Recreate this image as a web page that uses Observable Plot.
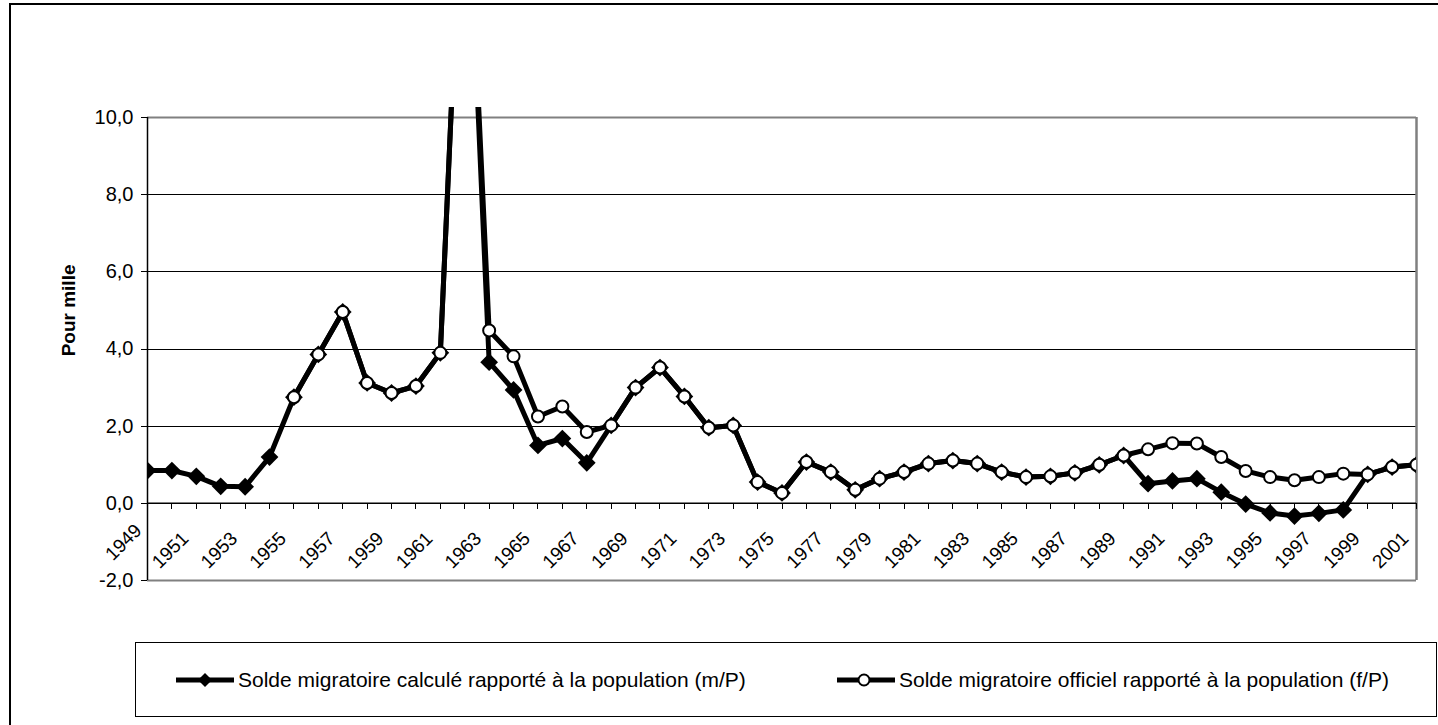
<!DOCTYPE html>
<html><head><meta charset="utf-8">
<script src="https://cdn.jsdelivr.net/npm/d3@7"></script>
<script src="https://cdn.jsdelivr.net/npm/@observablehq/plot@0.6"></script>
<style>
html,body{margin:0;padding:0;background:#fff;overflow:hidden;width:1438px;height:725px;}
body{position:relative;font-family:"Liberation Sans",Arial,sans-serif;}
#outer{position:absolute;left:9px;top:3px;width:1500px;height:800px;border:2px solid #000;box-sizing:border-box;}
#chart{position:absolute;left:0;top:0;}
#legend{position:absolute;left:135px;top:642px;width:1302px;height:75px;border:1.5px solid #000;box-sizing:border-box;background:#fff;}
.item{position:absolute;top:0;height:100%;display:flex;align-items:center;font-size:21px;color:#000;white-space:nowrap;}
.item svg{display:block;margin-right:2px;}
</style></head><body>
<div id="outer"></div>
<div id="chart"></div>
<div id="legend"></div>
<script>
const years = [1949,1950,1951,1952,1953,1954,1955,1956,1957,1958,1959,1960,1961,1962,1963,1964,1965,1966,1967,1968,1969,1970,1971,1972,1973,1974,1975,1976,1977,1978,1979,1980,1981,1982,1983,1984,1985,1986,1987,1988,1989,1990,1991,1992,1993,1994,1995,1996,1997,1998,1999,2000,2001];
const calcValues = [0.85,0.85,0.70,0.44,0.43,1.20,2.75,3.86,4.96,3.12,2.86,3.04,3.90,18.0,3.66,2.94,1.50,1.68,1.05,2.02,3.00,3.52,2.77,1.96,2.02,0.55,0.27,1.07,0.81,0.35,0.64,0.81,1.03,1.11,1.03,0.81,0.68,0.70,0.79,1.00,1.24,0.51,0.58,0.64,0.29,-0.02,-0.25,-0.33,-0.26,-0.17,0.75,0.94,1.00];
const officialValues = [null,null,null,null,null,null,2.75,3.86,4.96,3.12,2.86,3.04,3.90,18.0,4.48,3.81,2.25,2.51,1.85,2.02,3.00,3.52,2.77,1.96,2.02,0.55,0.27,1.07,0.81,0.35,0.64,0.81,1.03,1.11,1.03,0.81,0.68,0.70,0.79,1.00,1.24,1.40,1.56,1.55,1.20,0.84,0.68,0.60,0.68,0.77,0.75,0.94,1.00];
const yTicks = [-2,0,2,4,6,8,10];
const gridValues = [2,4,6,8];
const labelYears = [1949,1951,1953,1955,1957,1959,1961,1963,1965,1967,1969,1971,1973,1975,1977,1979,1981,1983,1985,1987,1989,1991,1993,1995,1997,1999,2001];
const seriesNames = ["Solde migratoire calculé rapporté à la population (m/P)", "Solde migratoire officiel rapporté à la population (f/P)"];
const yTitle = "Pour mille";
const yTitleAt = 5;

const calc = years.map((year, i) => ({year, value: calcValues[i]}));
const official = years.map((year, i) => ({year, value: officialValues[i]})).filter(d => d.value != null);
const fmt = d => d.toFixed(1).replace(".", ",");
const x0 = years[0], x1 = years[years.length - 1];
const yMin = yTicks[0], yMax = yTicks[yTicks.length - 1];

const chart = Plot.plot({
  width: 1438, height: 625,
  marginLeft: 147, marginRight: 22, marginTop: 107, marginBottom: 45,
  style: {fontFamily: "'Liberation Sans', Arial, sans-serif", fontSize: "20px", background: "transparent", overflow: "visible", color: "#000"},
  x: {domain: [x0, x1], axis: null},
  y: {domain: [yMin, 10.26], axis: null},
  marks: [
    Plot.ruleY(gridValues, {y: d => d, x1: () => x0, x2: () => x1, stroke: "#000", strokeWidth: 1, shapeRendering: "crispEdges"}),
    Plot.ruleY([yMax, yMin], {y: d => d, x1: () => x0, x2: () => x1, stroke: "#808080", strokeWidth: 2}),
    Plot.ruleX([x1], {x: d => d, y1: () => yMin, y2: () => yMax, stroke: "#808080", strokeWidth: 2.5}),
    Plot.ruleY([0], {y: d => d, x1: () => x0, x2: () => x1, stroke: "#000", strokeWidth: 1.5}),
    Plot.ruleX(years, {x: d => d, y1: () => 0, y2: () => 0, insetTop: 0, insetBottom: -6, stroke: "#000", strokeWidth: 1, shapeRendering: "crispEdges"}),
    Plot.ruleX([x0], {x: d => d, y1: () => yMin, y2: () => yMax, stroke: "#000", strokeWidth: 1.5}),
    Plot.ruleY(yTicks, {y: d => d, x1: () => x0, x2: () => x0, insetLeft: -6, insetRight: 0, stroke: "#000", strokeWidth: 1, shapeRendering: "crispEdges"}),
    Plot.text(yTicks, {x: () => x0, y: d => d, text: fmt, textAnchor: "end", dx: -14, fontSize: 20}),
    Plot.text(labelYears.slice(0, 1), {x: d => d, y: () => 0, text: d => String(d), rotate: -45, textAnchor: "end", dx: -9, dy: 24, fontSize: 19}),
    Plot.text(labelYears.slice(1), {x: d => d, y: () => 0, text: d => String(d), rotate: -45, textAnchor: "end", dx: -11, dy: 32, fontSize: 19}),
    Plot.text([yTitle], {x: () => x0, y: () => yTitleAt, rotate: -90, dx: -79, fontWeight: "bold", fontSize: 19}),
    Plot.line(calc, {x: "year", y: "value", stroke: "#000", strokeWidth: 5, strokeLinejoin: "round", clip: true}),
    Plot.dot(calc, {x: "year", y: "value", symbol: "diamond2", r: 8, fill: "#000", stroke: "none", clip: true}),
    Plot.line(official, {x: "year", y: "value", stroke: "#000", strokeWidth: 5, strokeLinejoin: "round", clip: true}),
    Plot.dot(official, {x: "year", y: "value", r: 6, fill: "#fff", stroke: "#000", strokeWidth: 2, clip: true})
  ]
});
document.getElementById("chart").appendChild(chart);

const legend = document.getElementById("legend");
const symDiamond = '<svg width="60" height="20"><line x1="0" y1="10" x2="58" y2="10" stroke="#000" stroke-width="5"/><polygon points="29,3 36,10 29,17 22,10" fill="#000"/></svg>';
const symCircle = '<svg width="60" height="20"><line x1="0" y1="10" x2="58" y2="10" stroke="#000" stroke-width="5"/><circle cx="27" cy="10" r="5.5" fill="#fff" stroke="#000" stroke-width="2"/></svg>';
[[40, symDiamond, seriesNames[0]], [701, symCircle, seriesNames[1]]].forEach(([left, sym, name]) => {
  const d = document.createElement("div");
  d.className = "item";
  d.style.left = left + "px";
  d.innerHTML = sym + "<span>" + name + "</span>";
  legend.appendChild(d);
});
</script>
</body></html>
